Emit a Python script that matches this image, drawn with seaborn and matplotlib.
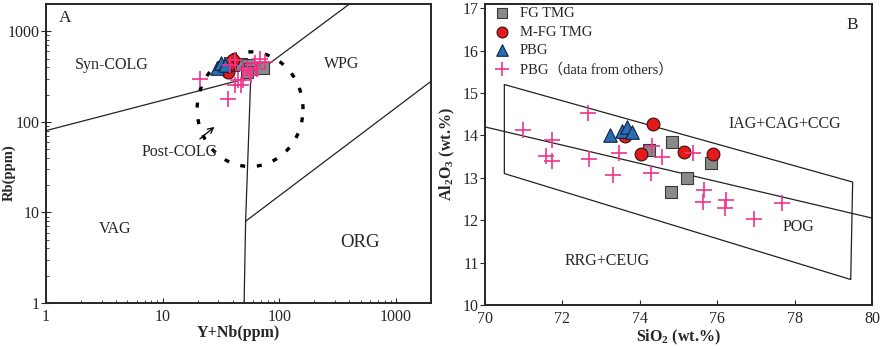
import numpy as np
import pandas as pd
import seaborn as sns
import matplotlib.pyplot as plt

# ---- Panel A: Rb vs Y+Nb ----
fg_a_ynb = [40.2, 47.4, 54.1, 56.0, 72.6, 52.6, 37.8]
fg_a_rb = [424, 430, 424, 384, 397, 357, 442]
mfg_a_ynb = [35.4, 36.5, 40.2, 36.5]
mfg_a_rb = [370, 357, 480, 417]
pbg_a_ynb = [29.0, 31.6, 34.6]
pbg_a_rb = [397, 452, 424]
oth_a_ynb = [20.9, 36.5, 41.7, 47.4, 48.9, 44.4, 57.8, 52.6, 62.0, 68.0, 75.2, 37.8, 41.7, 64.0, 48.9, 56.0]
oth_a_rb = [300, 180, 253, 253, 287, 287, 327, 397, 442, 500, 462, 424, 485, 388, 370, 357]

# ---- Panel B: Al2O3 vs SiO2 ----
fg_b_si = [74.82, 74.25, 75.83, 75.21, 74.81]
fg_b_al = [13.84, 13.65, 13.34, 12.99, 12.67]
mfg_b_si = [74.35, 73.62, 74.02, 75.15, 75.90]
mfg_b_al = [14.26, 13.98, 13.57, 13.61, 13.55]
pbg_b_si = [73.23, 73.53, 73.66, 73.79]
pbg_b_al = [14.01, 14.11, 14.20, 14.09]
oth_b_si = [72.67, 70.97, 71.72, 71.58, 71.72, 72.70, 73.45, 73.32, 74.29, 74.58, 74.31,
            75.37, 75.67, 75.64, 76.24, 76.20, 76.96, 77.67]
oth_b_al = [14.52, 14.12, 13.89, 13.51, 13.39, 13.45, 13.58, 13.07, 13.12, 13.48, 13.74,
            13.58, 12.71, 12.43, 12.47, 12.29, 12.03, 12.41]

labels = ["FG TMG", "M-FG TMG", "PBG", "PBG\uff08data from others\uff09"]

sns.set_style("ticks")
plt.rcParams['font.family'] = ['Liberation Serif', 'Noto Sans CJK SC']
plt.rcParams['mathtext.fontset'] = 'custom'
plt.rcParams['mathtext.rm'] = 'Liberation Serif'
plt.rcParams['mathtext.bf'] = 'Liberation Serif:bold'
plt.rcParams['axes.linewidth'] = 1.4

styles = [
    dict(marker='s', color='#8a8a8a', edgecolor='#3a3a3a', s=70, linewidth=0.8),
    dict(marker='o', color='#e3191c', edgecolor='#3a1010', s=85, linewidth=0.8),
    dict(marker='^', color='#2a6cb6', edgecolor='#10233d', s=95, linewidth=0.8),
    dict(marker='+', color='#f0348c', s=140, linewidth=1.2),
]

fig = plt.figure(figsize=(8.86, 3.49), dpi=100)
ax1 = fig.add_axes([0.0519, 0.1318, 0.4345, 0.8567])
ax2 = fig.add_axes([0.5474, 0.1262, 0.4368, 0.8623])

# ---------- A ----------
ax1.set_xscale('log')
ax1.set_yscale('log')
ax1.set_xlim(1, 2000)
ax1.set_ylim(1, 2000)
lc = '#222222'
ax1.plot([1, 57], [80, 310], color=lc, lw=0.9)
ax1.plot([57, 400], [310, 2000], color=lc, lw=0.9)
ax1.plot([57, 51.5, 50], [310, 8, 1], color=lc, lw=0.9)
ax1.plot([51.5, 2000], [8, 280], color=lc, lw=0.9)

t = np.linspace(0, 2 * np.pi, 300)
ex = 10 ** (1.75 + 0.454 * np.cos(t))
ey = 10 ** (2.14 + 0.633 * np.sin(t))
ax1.plot(ex, ey, color='k', lw=2.4, ls=(0, (1.5, 3.5)))
ax1.annotate('', xy=(29, 92), xytext=(20, 62),
             arrowprops=dict(arrowstyle='->', color='k', lw=0.9))

data_a = [(fg_a_ynb, fg_a_rb), (mfg_a_ynb, mfg_a_rb), (pbg_a_ynb, pbg_a_rb), (oth_a_ynb, oth_a_rb)]
for (xv, yv), st in zip(data_a, styles):
    df = pd.DataFrame({'x': xv, 'y': yv})
    sns.scatterplot(data=df, x='x', y='y', ax=ax1, zorder=3, legend=False, **st)

fs = 11.5
ax1.text(1.45, 1390, 'A', fontsize=fs + 1, ha='center', va='center')
ax1.text(3.7, 420, 'Syn-COLG', fontsize=fs, ha='center', va='center')
ax1.text(345, 440, 'WPG', fontsize=fs, ha='center', va='center')
ax1.text(14, 46, 'Post-COLG', fontsize=fs, ha='center', va='center')
ax1.text(3.9, 6.6, 'VAG', fontsize=fs, ha='center', va='center')
ax1.text(490, 4.6, 'ORG', fontsize=fs + 2, ha='center', va='center')

ax1.set_xticks([1, 10, 100, 1000])
ax1.set_xticklabels(['1', '10', '100', '1000'])
ax1.set_yticks([1, 10, 100, 1000])
ax1.set_yticklabels(['1', '10', '100', '1000'])
ax1.tick_params(axis='x', which='both', direction='in', labelsize=fs, pad=4)
ax1.tick_params(axis='y', which='major', direction='inout', length=7, labelsize=fs, pad=1)
ax1.tick_params(axis='y', which='minor', direction='in')
ax1.set_xlabel('Y+Nb(ppm)', fontsize=fs, fontweight='bold', labelpad=0)
ax1.set_ylabel('Rb(ppm)', fontsize=10.5, fontweight='bold')
ax1.yaxis.set_label_coords(-0.079, 0.435)

# ---------- B ----------
ax2.set_xlim(70, 80)
ax2.set_ylim(10, 17.1)
ax2.plot([70.5, 79.5, 79.45, 70.5, 70.5], [15.2, 12.9, 10.6, 13.1, 15.2], color=lc, lw=0.9)
ax2.plot([70, 80], [14.2, 12.05], color=lc, lw=0.9)

data_b = [(fg_b_si, fg_b_al), (mfg_b_si, mfg_b_al), (pbg_b_si, pbg_b_al), (oth_b_si, oth_b_al)]
for (xv, yv), st, lab in zip(data_b, styles, labels):
    df = pd.DataFrame({'x': xv, 'y': yv})
    sns.scatterplot(data=df, x='x', y='y', ax=ax2, zorder=3, label=lab, **st)

ax2.legend(loc='upper left', frameon=False, fontsize=10.5, handletextpad=0.2,
           labelspacing=0.36, borderaxespad=0.05, borderpad=0.15, markerscale=0.85)

ax2.text(79.5, 16.6, 'B', fontsize=fs + 1, ha='center', va='center')
ax2.text(77.75, 14.28, 'IAG+CAG+CCG', fontsize=fs, ha='center', va='center')
ax2.text(78.1, 11.85, 'POG', fontsize=fs, ha='center', va='center')
ax2.text(73.15, 11.04, 'RRG+CEUG', fontsize=fs, ha='center', va='center')

ax2.set_xticks([70, 72, 74, 76, 78, 80])
ax2.set_yticks([10, 11, 12, 13, 14, 15, 16, 17])
ax2.tick_params(axis='x', direction='in', labelsize=fs, pad=4)
ax2.tick_params(axis='y', direction='out', labelsize=fs, pad=1)
ax2.set_xlabel(r'SiO$_\mathbf{2}$ (wt.%)', fontsize=fs, fontweight='bold', labelpad=1)
ax2.set_ylabel(r'Al$_\mathbf{2}$O$_\mathbf{3}$ (wt.%)', fontsize=fs, fontweight='bold')
ax2.yaxis.set_label_coords(-0.072, 0.5)

fig.savefig('out.png', dpi=100)
